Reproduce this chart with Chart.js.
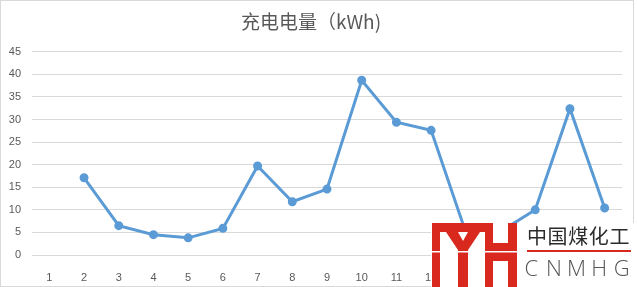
<!DOCTYPE html>
<html>
<head>
<meta charset="utf-8">
<script src="https://cdn.jsdelivr.net/npm/chart.js@4"></script>
<style>
  html, body { margin:0; padding:0; background:#fff; }
  #wrap { position:relative; width:637px; height:287px; overflow:hidden; }
  #frame { position:absolute; left:0; top:0; width:634px; height:287px; box-sizing:border-box; border:1px solid #d9d9d9; }
  #c { position:absolute; left:0; top:0; }
  .wm-cn { position:absolute; left:527px; top:224px; font:20px "Noto Sans CJK SC", sans-serif; color:#2b2b2b; letter-spacing:0.6px; line-height:24px; white-space:nowrap; }
  .wm-rule { position:absolute; left:527px; top:250px; width:104px; height:2px; background:#d9291e; }
  .wm-en { position:absolute; left:520px; top:254px; font:300 22px "Open Sans", sans-serif; color:#555; line-height:26px; white-space:nowrap; }
  .wm-en span { display:inline-block; width:22.6px; text-align:center; }
  svg.wm { position:absolute; left:0; top:0; }
</style>
</head>
<body>
<div id="wrap">
  <div id="frame"></div>
  <canvas id="c" width="634" height="287"></canvas>
  <svg class="wm" width="637" height="287">
    <rect x="431" y="223" width="206" height="64" fill="#fff"/>
    <g fill="#d9291e">
      <rect x="432" y="223" width="8" height="64"/>
      <rect x="432" y="223" width="61" height="9"/>
      <polygon points="446,232 458,232 463,241 468,232 480,232 468,250 468,287 458,287 458,250"/>
      <rect x="485" y="223" width="8" height="64"/>
      <rect x="493" y="243" width="15" height="18"/>
      <rect x="508" y="223" width="9" height="64"/>
    </g>
    <rect x="430" y="251" width="90" height="1.5" fill="#fff"/>
  </svg>
  <div class="wm-cn">中国煤化工</div>
  <div class="wm-rule"></div>
  <div class="wm-en"><span>C</span><span>N</span><span>M</span><span>H</span><span>G</span></div>
</div>
<script>
// 充电电量 per day, kWh (day 1 empty, days 13-14 hidden under the stamp, estimated)
const DAYS = ["1","2","3","4","5","6","7","8","9","10","11","12","13","14","15","16","17"];
const ENERGY = [null, 17.1, 6.5, 4.5, 3.8, 5.9, 19.7, 11.8, 14.6, 38.7, 29.4, 27.6, 5.0, 5.2, 10.0, 32.4, 10.4];
const Y_MAX = 45, Y_STEP = 5;

const tickFont = { family:"'Liberation Sans', 'DejaVu Sans', sans-serif", size:11 };

new Chart(document.getElementById("c").getContext("2d"), {
  type: "line",
  data: {
    labels: DAYS,
    datasets: [{
      label: "充电电量",
      data: ENERGY,
      borderColor: "#5b9bd5",
      backgroundColor: "#5b9bd5",
      borderWidth: 3,
      pointRadius: 3,
      pointHoverRadius: 3,
      tension: 0,
      spanGaps: false
    }]
  },
  options: {
    responsive: false,
    animation: false,
    layout: { padding: { left: 0, right: 12, top: 0, bottom: 0 } },
    plugins: {
      legend: { display: false },
      tooltip: { enabled: false },
      title: {
        display: true,
        text: "充电电量（kWh)",
        color: "#595959",
        font: { family:"'Noto Sans CJK SC', sans-serif", size:19, weight:"normal" },
        padding: { top: 10, bottom: 19 }
      }
    },
    scales: {
      x: {
        offset: true,
        grid: { display: false, offset: true },
        border: { display: false },
        ticks: { color:"#595959", font: tickFont, padding: 8, maxRotation: 0, autoSkip: false },
        afterFit: s => { s.height = 32; }
      },
      y: {
        min: 0, max: Y_MAX,
        grid: { color:"#d9d9d9", drawTicks: false },
        border: { display: false },
        ticks: { stepSize: Y_STEP, color:"#595959", font: tickFont, padding: 11 },
        afterFit: s => { s.width = 32; }
      }
    }
  }
});
</script>
</body>
</html>
